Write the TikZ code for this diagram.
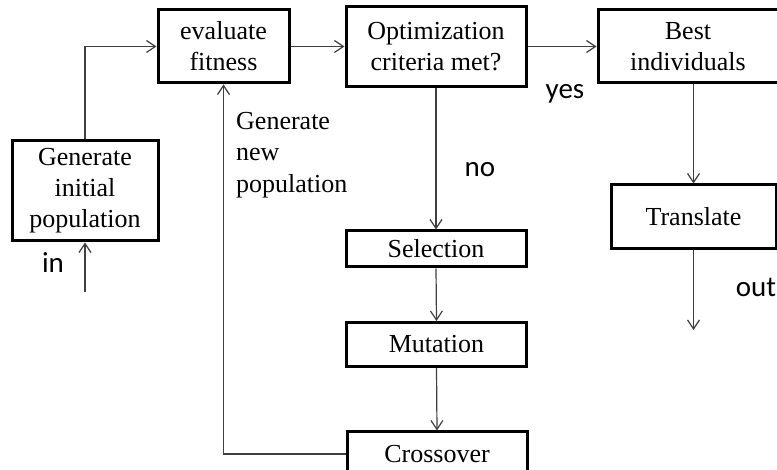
\documentclass[tikz,border=0pt]{standalone}
\usepackage{fontspec}
\setmainfont{Liberation Serif}
\newfontfamily\lblfont{Carlito}
\usetikzlibrary{arrows.meta}
\tikzset{
  box/.style={draw,line width=3pt,inner sep=0pt,align=center,font=\fontsize{26}{31}\selectfont},
  flow/.style={draw=black!75,line width=1.2pt,-{Straight Barb[length=9pt,width=12pt]}},
  lbl/.style={inner sep=0pt,font=\lblfont\fontsize{29}{30}\selectfont}
}

\begin{document}
\begin{tikzpicture}[x=1pt,y=1pt]
    \useasboundingbox (0,0) rectangle (777,-470);
    \node[box,minimum width=146pt,minimum height=100pt] (init) at (85,-191) {Generate\\initial\\population};
    \node[box,minimum width=131pt,minimum height=73pt] (eval) at (223.5,-46.5) {evaluate\\fitness};
    \node[box,minimum width=180pt,minimum height=80pt] (opt) at (436,-46.5) {Optimization\\criteria met?};
    \node[box,minimum width=180pt,minimum height=73pt] (best) at (688,-46.5) {Best\\individuals};
    \node[box,minimum width=165pt,minimum height=64pt] (trans) at (693.5,-217) {Translate};
    \node[box,minimum width=180pt,minimum height=36pt] (sel) at (436,-249) {Selection};
    \node[box,minimum width=180pt,minimum height=44pt] (mut) at (436.5,-344.5) {Mutation};
    \node[box,minimum width=180pt,minimum height=44pt] (cross) at (437,-454) {Crossover};

    \coordinate (start) at (85,-292);
    \coordinate (stop) at (693.5,-330);

    \node[lbl,anchor=base] (inlbl) at (53,-273) {in};
    \node[lbl,anchor=base] (yes) at (565,-99) {yes};
    \node[lbl,anchor=base] (no) at (480,-177) {no};
    \node[lbl,anchor=base] (out) at (756,-297) {out};
    \node[inner sep=0pt,anchor=north west,align=left,font=\fontsize{26}{31.5}\selectfont] (newpop) at (236,-112) {Generate\\new\\population};

    \draw[flow] (start) -- (init.south);
    \draw[flow] (init.north) |- (eval.west);
    \draw[flow] (eval.east) -- (opt.west);
    \draw[flow] (opt.east) -- (best.west);
    \draw[flow] (opt.south) -- (sel.north);
    \draw[flow] (sel.south) -- (mut.north);
    \draw[flow] (mut.south) -- (cross.north);
    \draw[flow] (cross.west) -| (eval.south);
    \draw[flow] (trans.north |- best.south) -- (trans.north);
    \draw[flow] (trans.south) -- (stop);
\end{tikzpicture}
\end{document}
